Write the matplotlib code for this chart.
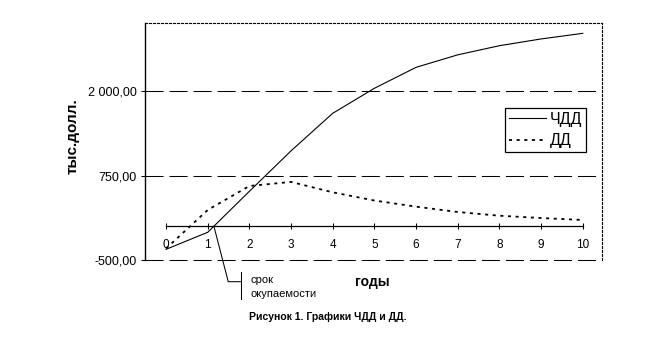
import numpy as np
import matplotlib
matplotlib.use("Agg")
import matplotlib.pyplot as plt
from matplotlib import rcParams

rcParams['font.family'] = ['Liberation Sans', 'DejaVu Sans']
rcParams['lines.scale_dashes'] = False

years = [0, 1, 2, 3, 4, 5, 6, 7, 8, 9, 10]
npv = [-342, -90, 516, 1115, 1670, 2040, 2350, 2535, 2670, 2770, 2853]   # ЧДД
dd = [-330, 240, 595, 655, 501, 380, 289, 210, 155, 121, 92]             # ДД
yticks = [-500, 750, 2000]
ytick_labels = ["-500,00", "750,00", "2 000,00"]

fig = plt.figure(figsize=(6.5, 3.61), dpi=100)
ax = fig.add_axes([145.2 / 650, 101 / 361, 456.3 / 650, 236.6 / 361])

ax.plot(years, npv, color='black', lw=0.8, label='ЧДД')
ax.plot(years, dd, color='black', lw=1.3, linestyle=(0, (2.2, 3.3)), label='ДД')

ax.set_xlim(-0.5, 10.45)
ax.set_ylim(-500, 3000)

# y axis + dashed grid
ax.set_yticks(yticks)
ax.set_yticklabels(ytick_labels, fontsize=9)
ax.yaxis.grid(True, color='black', lw=0.75, linestyle=(0, (13, 4.3)))
ax.tick_params(axis='y', direction='out', length=3, width=0.75, pad=3)
for gl in ax.get_ygridlines():
    gl.set_clip_on(False)

# x axis drawn through zero
ax.spines['bottom'].set_position(('data', 0))
ax.spines['bottom'].set_bounds(0, 10)
ax.spines['bottom'].set_linewidth(0.9)
ax.set_xticks(years)
ax.tick_params(axis='x', direction='inout', length=5, width=0.75, pad=7, labelsize=8.5)

ax.spines['left'].set_linewidth(1)
for s in ['top', 'right']:
    ax.spines[s].set_linestyle((0, (1.44, 1.44)))
    ax.spines[s].set_linewidth(0.8)

ax.text(-0.158, 0.524, 'тыс.долл.', transform=ax.transAxes, rotation=90,
        ha='center', va='center', fontsize=11, fontweight='bold')
ax.text(0.497, -0.092, 'годы', transform=ax.transAxes, ha='center',
        va='center', fontsize=10, fontweight='bold')

# payback marker
payback = np.interp(0, npv[:3], years[:3])
px0 = ax.transAxes.inverted().transform(ax.transData.transform((payback, 0)))
ax.plot([px0[0], 0.182, 0.21], [px0[1], -0.0917, -0.0917], color='black',
        lw=0.75, transform=ax.transAxes, clip_on=False)
ax.plot([0.21, 0.21], [-0.049, -0.166], color='black', lw=0.75,
        transform=ax.transAxes, clip_on=False)
ax.text(0.231, -0.0845, 'срок', transform=ax.transAxes, ha='left',
        va='center', fontsize=8)
ax.text(0.231, -0.1437, 'окупаемости', transform=ax.transAxes, ha='left',
        va='center', fontsize=8)

leg = ax.legend(loc='upper left', bbox_to_anchor=(0.7885, 0.6424),
                borderaxespad=0, fancybox=False, fontsize=11.5,
                handlelength=2.3, handletextpad=0.25, labelspacing=0.4,
                borderpad=0.25, framealpha=1)
leg.get_frame().set_edgecolor('black')
leg.get_frame().set_linewidth(0.9)

fig.text(0.505, 0.122, 'Рисунок 1. Графики ЧДД и ДД.', ha='center',
         va='center', fontsize=7.5, fontweight='bold')

fig.savefig('out.png', dpi=100)
